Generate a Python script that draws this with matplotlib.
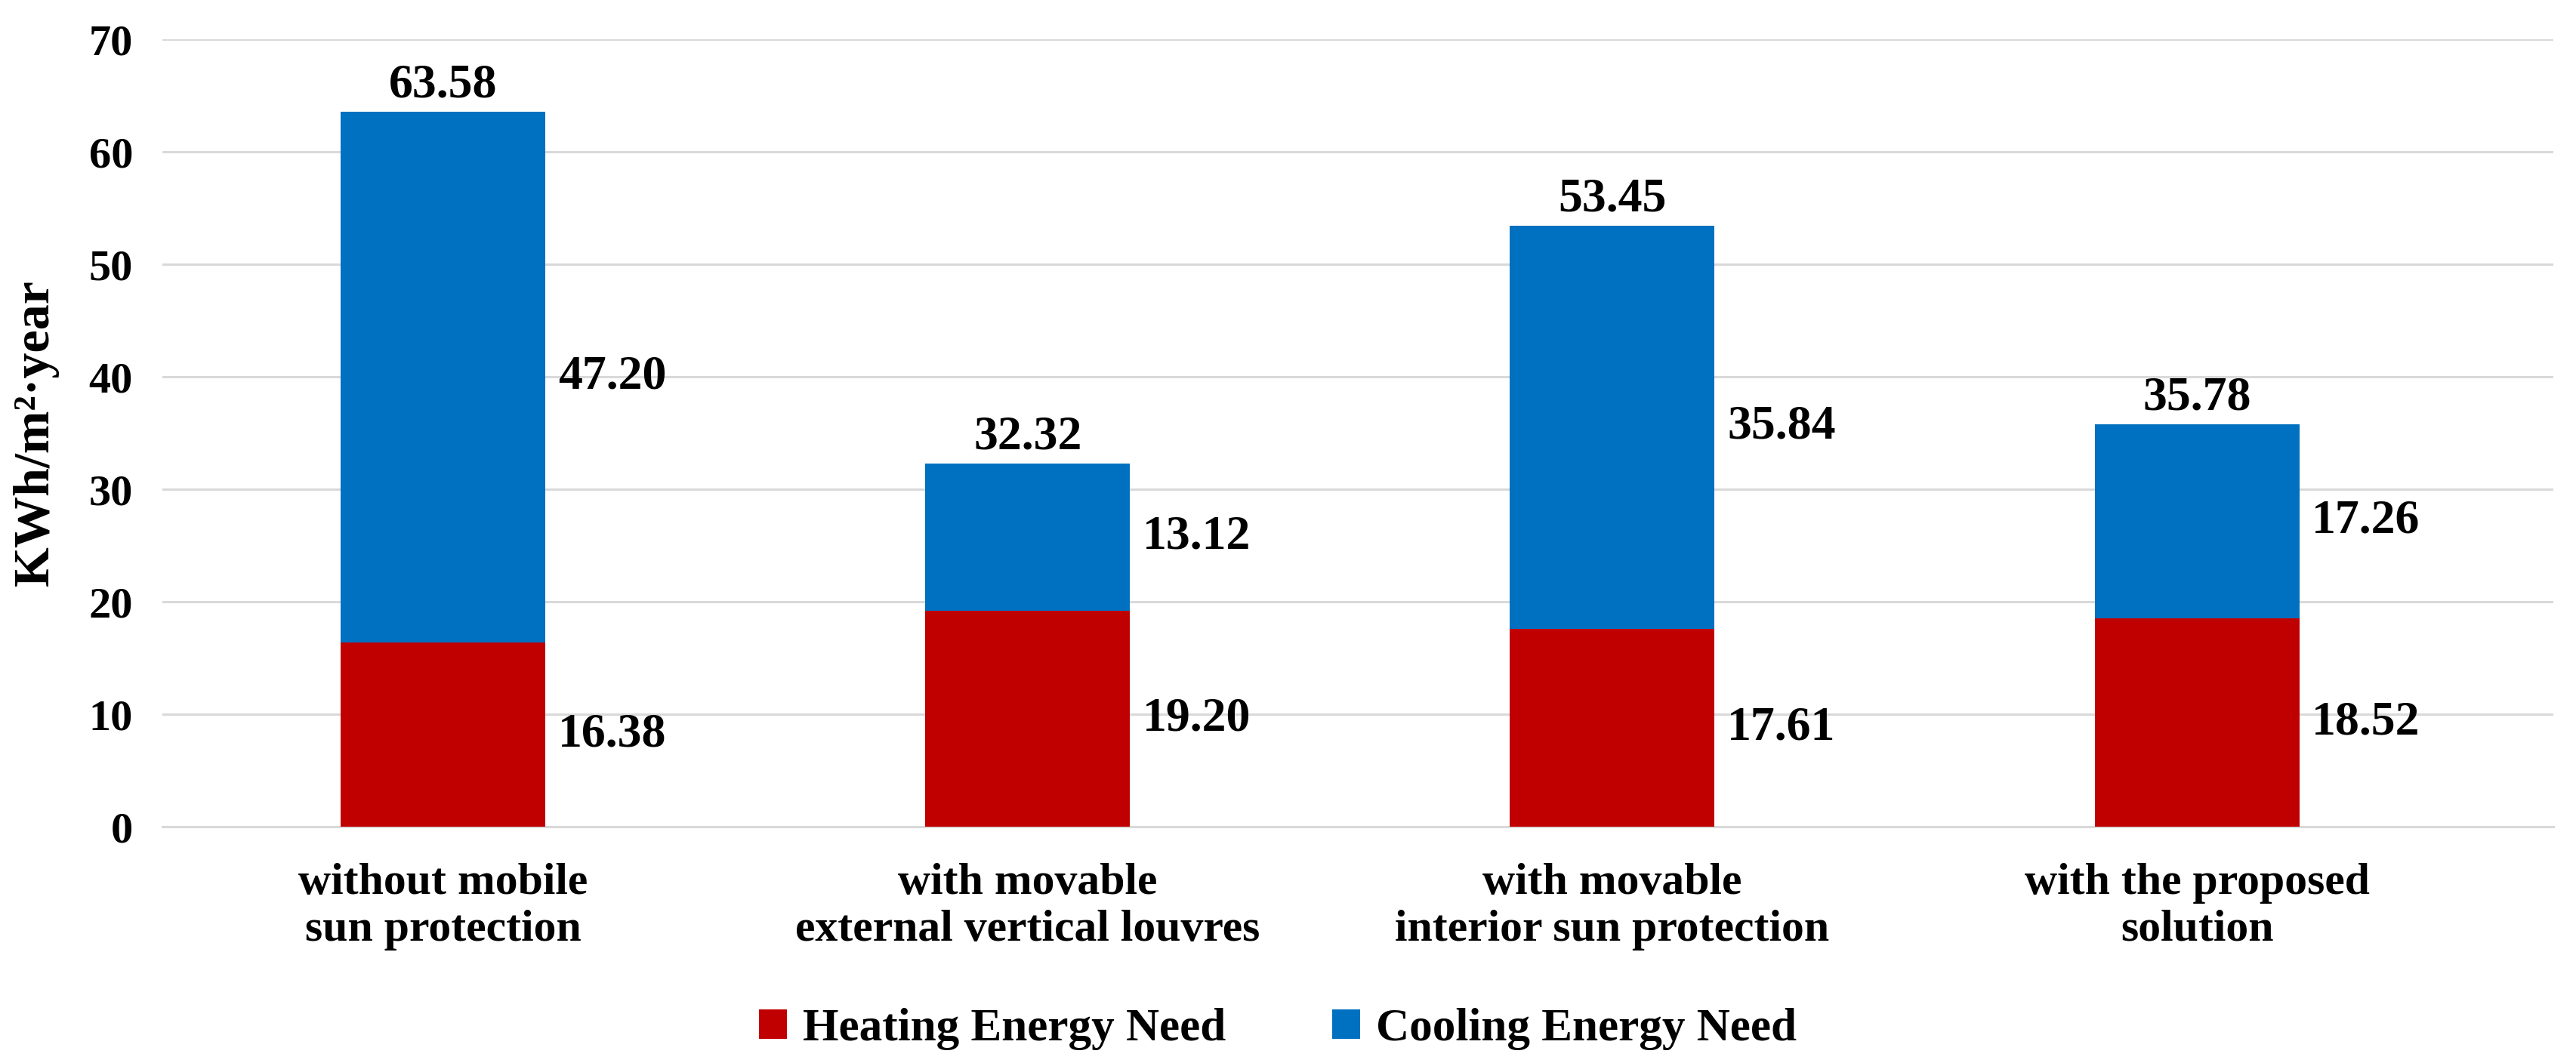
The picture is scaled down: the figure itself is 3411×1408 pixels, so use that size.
import numpy as np
import matplotlib
matplotlib.use("Agg")
import matplotlib.pyplot as plt

# data
categories = [
    "without mobile\nsun protection",
    "with movable\nexternal vertical louvres",
    "with movable\ninterior sun protection",
    "with the proposed\nsolution",
]
heating = [16.38, 19.20, 17.61, 18.52]
cooling = [47.20, 13.12, 35.84, 17.26]
totals = [63.58, 32.32, 53.45, 35.78]
y_ticks = [0, 10, 20, 30, 40, 50, 60, 70]

HEAT_COLOR = "#C00000"
COOL_COLOR = "#0070C0"
GRID_COLOR = "#D9D9D9"

plt.rcParams["font.family"] = ["Liberation Serif", "DejaVu Serif"]
plt.rcParams["font.weight"] = "bold"


def main():
    fig = plt.figure(figsize=(17.06, 7.04), dpi=200)
    ax = fig.add_axes([0.063, 0.222, 0.928, 0.741])

    x = np.arange(len(categories))
    width = 0.35

    ax.bar(x, heating, width, color=HEAT_COLOR, label="Heating Energy Need", zorder=3)
    ax.bar(x, cooling, width, bottom=heating, color=COOL_COLOR,
           label="Cooling Energy Need", zorder=3)

    # segment labels to the right of each bar, totals on top
    for i in range(len(categories)):
        ax.annotate(f"{heating[i]:.2f}", (x[i] + width / 2, heating[i] / 2),
                    xytext=(6, 0), textcoords="offset points",
                    ha="left", va="center", fontsize=23, fontweight="bold")
        ax.annotate(f"{cooling[i]:.2f}", (x[i] + width / 2, heating[i] + cooling[i] / 2),
                    xytext=(6, 0), textcoords="offset points",
                    ha="left", va="center", fontsize=23, fontweight="bold")
        ax.annotate(f"{totals[i]:.2f}", (x[i], heating[i] + cooling[i]),
                    xytext=(0, 2), textcoords="offset points",
                    ha="center", va="bottom", fontsize=23, fontweight="bold")

    ax.set_xlim(-0.48, 3.61)
    ax.set_ylim(0, 70)
    ax.set_yticks(y_ticks)
    ax.set_xticks(x)
    ax.set_xticklabels(categories, fontsize=21.5, fontweight="bold")
    ax.tick_params(axis="y", labelsize=21, length=0, pad=14)
    ax.tick_params(axis="x", length=0, pad=17)

    ax.yaxis.grid(True, color=GRID_COLOR, linewidth=1.1, zorder=0)
    ax.set_axisbelow(True)
    for side in ["top", "right", "left"]:
        ax.spines[side].set_visible(False)
    ax.spines["bottom"].set_color(GRID_COLOR)
    ax.spines["bottom"].set_linewidth(1.1)

    fig.text(0.014, 0.593, "KWh/m²·year", rotation=90, ha="center", va="center",
             fontsize=24.5, fontweight="bold")

    fig.legend(loc="center", bbox_to_anchor=(0.496, 0.032), ncol=2, frameon=False,
               fontsize=22, handlelength=0.6, handleheight=0.6,
               handletextpad=0.35, columnspacing=2.3)

    fig.savefig("out.png", dpi=200)
    plt.close(fig)


if __name__ == "__main__":
    main()
